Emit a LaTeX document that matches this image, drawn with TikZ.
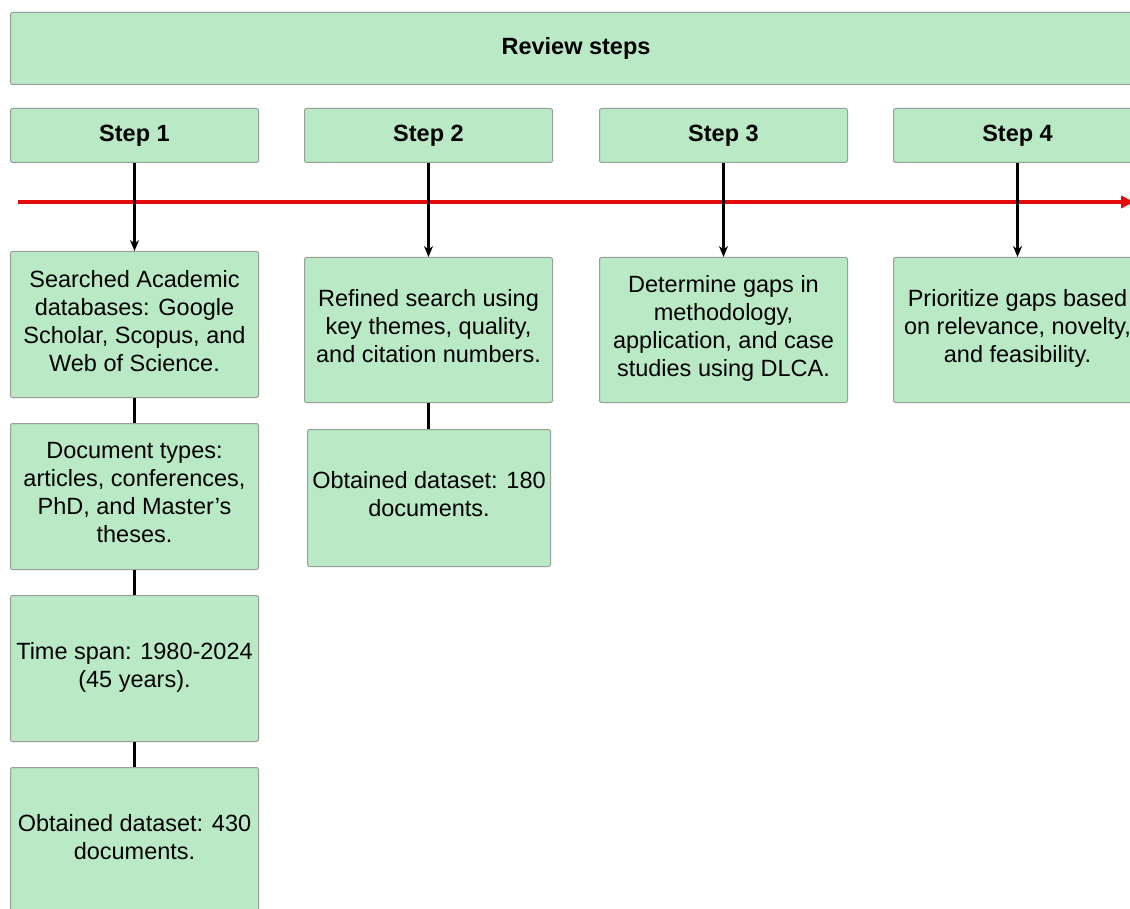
\documentclass[tikz,border=0pt]{standalone}
\usepackage{fontspec}
\setmainfont{Liberation Sans}
\usetikzlibrary{arrows.meta}
\definecolor{boxfill}{RGB}{185,233,197}
\definecolor{boxline}{RGB}{150,160,152}
\definecolor{tlred}{RGB}{228,10,10}
\tikzset{
  gbox/.style={draw=boxline, fill=boxfill, rounded corners=2pt, line width=1pt,
    align=center, inner sep=0pt, anchor=north west,
    font=\fontsize{23.5}{28}\selectfont},
  stepbox/.style={gbox, minimum width=248pt, minimum height=54pt, font=\bfseries\fontsize{23.5}{28}\selectfont},
  cbox/.style={gbox, minimum width=248pt, minimum height=146pt},
  link/.style={line width=2.4pt, black},
  arr/.style={link, -{Stealth[length=11pt,width=9pt]}},
}
\begin{document}
\begin{tikzpicture}[x=1pt,y=-1pt]
\useasboundingbox (0,0) rectangle (1130,909);
\clip (0,0) rectangle (1130,909);
\fill[white] (0,0) rectangle (1130,909);
% title
\node[gbox, minimum width=1131pt, minimum height=72pt, font=\bfseries\fontsize{23.5}{28}\selectfont] (title) at (10,12) {Review steps};
% steps
\node[stepbox] (s1) at (10,108) {Step 1};
\node[stepbox] (s2) at (304,108) {Step 2};
\node[stepbox] (s3) at (599,108) {Step 3};
\node[stepbox] (s4) at (893,108) {Step 4};
% timeline
\coordinate (tl0) at (18,202);
\coordinate (tl1) at (1134,202);
\draw[tlred, line width=4pt, -{Triangle[length=13pt,width=12pt]}] (tl0) -- (tl1);
% column 1
\node[cbox] (a1) at (10,251) {Searched Academic\\databases: Google\\Scholar, Scopus, and\\Web of Science.\\[-20pt]};
\node[cbox] (a2) at (10,423) {Document types:\\articles, conferences,\\PhD, and Master’s\\theses.\\[-20pt]};
\node[cbox] (a3) at (10,595) {Time span: 1980-2024\\(45 years).\\[-20pt]};
\node[cbox] (a4) at (10,767) {Obtained dataset: 430\\documents.\\[-20pt]};
% column 2
\node[cbox, minimum height=145pt] (b1) at (304,257) {Refined search using\\key themes, quality,\\and citation numbers.\\[-20pt]};
\node[cbox, minimum width=243pt, minimum height=137pt] (b2) at (307,429) {Obtained dataset: 180\\documents.\\[-20pt]};
% column 3
\node[cbox, minimum height=145pt] (c1) at (599,257) {Determine gaps in\\methodology,\\application, and case\\studies using DLCA.\\[-20pt]};
% column 4
\node[cbox, minimum height=145pt] (d1) at (893,257) {Prioritize gaps based\\on relevance, novelty,\\and feasibility.\\[-20pt]};
% connectors
\draw[arr] (s1.south) -- (a1.north);
\draw[arr] (s2.south) -- (b1.north);
\draw[arr] (s3.south) -- (c1.north);
\draw[arr] (s4.south) -- (d1.north);
\draw[link] (a1.south) -- (a2.north);
\draw[link] (a2.south) -- (a3.north);
\draw[link] (a3.south) -- (a4.north);
\draw[link] (b1.south) -- (b1.south |- b2.north);
\end{tikzpicture}
\end{document}
